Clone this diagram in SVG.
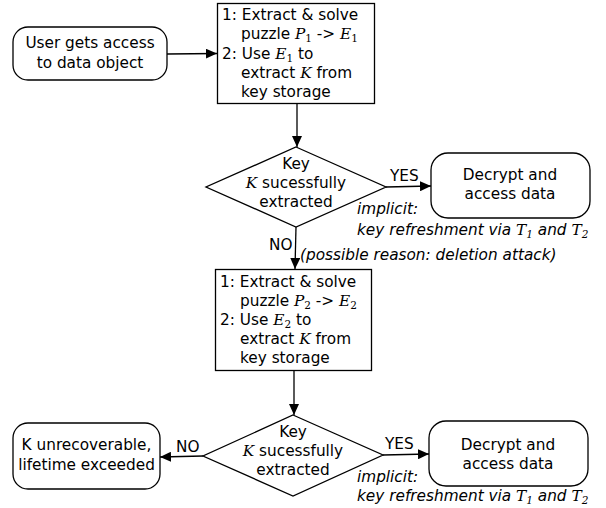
<svg xmlns="http://www.w3.org/2000/svg" width="606" height="508" viewBox="0 0 606 508">
<style>
.s{fill:#fff;stroke:#000;stroke-width:1.3}
.t{font-family:"DejaVu Sans",sans-serif;font-size:15.3px;fill:#000}
.i{font-style:italic}
.m{font-family:"DejaVu Serif",serif;font-style:italic}
.b{font-family:"DejaVu Serif",serif;font-size:10.5px}
.e{stroke:#000;stroke-width:1.3;fill:none}
</style>
<defs>
<marker id="ah" markerUnits="userSpaceOnUse" markerWidth="12" markerHeight="10" refX="11" refY="5" orient="auto">
<path d="M0,0 L11,5 L0,10 Z" fill="#000"/>
</marker>
</defs>
<rect width="606" height="508" fill="#fff"/>
<g id="connectors">
<line class="e" x1="167" y1="54" x2="217" y2="53.5" marker-end="url(#ah)"/>
<line class="e" x1="297" y1="104" x2="297" y2="147" marker-end="url(#ah)"/>
<line class="e" x1="386" y1="187" x2="431" y2="186" marker-end="url(#ah)"/>
<line class="e" x1="296" y1="227" x2="295" y2="269" marker-end="url(#ah)"/>
<line class="e" x1="294" y1="371" x2="294" y2="415" marker-end="url(#ah)"/>
<line class="e" x1="203" y1="456" x2="160" y2="457" marker-end="url(#ah)"/>
<line class="e" x1="383" y1="455" x2="429" y2="454" marker-end="url(#ah)"/>
<text class="t" x="390" y="181">YES</text>
<text class="t" x="269" y="250">NO</text>
<text class="t" x="176" y="452">NO</text>
<text class="t" x="385" y="449">YES</text>
<text class="t i" x="357" y="214">implicit:</text>
<text class="t i" x="357" y="235">key refreshment via <tspan class="m">T</tspan><tspan class="b i" dy="3">1</tspan><tspan dy="-3"> and </tspan><tspan class="m">T</tspan><tspan class="b i" dy="3">2</tspan></text>
<text class="t i" x="300" y="260">(possible reason: deletion attack)</text>
<text class="t i" x="357" y="482">implicit:</text>
<text class="t i" x="357" y="501">key refreshment via <tspan class="m">T</tspan><tspan class="b i" dy="3">1</tspan><tspan dy="-3"> and </tspan><tspan class="m">T</tspan><tspan class="b i" dy="3">2</tspan></text>
</g>
<g id="start">
<rect class="s" x="13" y="27" width="154" height="53" rx="15"/>
<text class="t" text-anchor="middle" x="90" y="48">User gets access</text>
<text class="t" text-anchor="middle" x="90" y="68">to data object</text>
</g>
<g id="step1">
<rect class="s" x="217.5" y="3.5" width="157" height="100"/>
<text class="t" x="222" y="20">1: Extract &amp; solve</text>
<text class="t" x="241" y="39">puzzle <tspan class="m">P</tspan><tspan class="b" dy="3">1</tspan><tspan dy="-3"> -&gt; </tspan><tspan class="m">E</tspan><tspan class="b" dy="3">1</tspan></text>
<text class="t" x="222" y="59">2: Use <tspan class="m">E</tspan><tspan class="b" dy="3">1</tspan><tspan dy="-3"> to</tspan></text>
<text class="t" x="241" y="78">extract <tspan class="m">K</tspan> from</text>
<text class="t" x="241" y="97">key storage</text>
</g>
<g id="check1">
<polygon class="s" points="296,147 386,187 296,227 206,187"/>
<text class="t" text-anchor="middle" x="296" y="169">Key</text>
<text class="t" text-anchor="middle" x="296" y="188"><tspan class="m">K</tspan> sucessfully</text>
<text class="t" text-anchor="middle" x="296" y="207">extracted</text>
</g>
<g id="decrypt1">
<rect class="s" x="431" y="153" width="159" height="65" rx="17"/>
<text class="t" text-anchor="middle" x="510" y="180">Decrypt and</text>
<text class="t" text-anchor="middle" x="510" y="199">access data</text>
</g>
<g id="step2">
<rect class="s" x="215.5" y="269.5" width="156" height="101"/>
<text class="t" x="220" y="287">1: Extract &amp; solve</text>
<text class="t" x="240" y="306">puzzle <tspan class="m">P</tspan><tspan class="b" dy="3">2</tspan><tspan dy="-3"> -&gt; </tspan><tspan class="m">E</tspan><tspan class="b" dy="3">2</tspan></text>
<text class="t" x="220" y="325">2: Use <tspan class="m">E</tspan><tspan class="b" dy="3">2</tspan><tspan dy="-3"> to</tspan></text>
<text class="t" x="240" y="344">extract <tspan class="m">K</tspan> from</text>
<text class="t" x="240" y="363">key storage</text>
</g>
<g id="check2">
<polygon class="s" points="293,415 383,455 293,496 203,456"/>
<text class="t" text-anchor="middle" x="293" y="437">Key</text>
<text class="t" text-anchor="middle" x="293" y="456"><tspan class="m">K</tspan> sucessfully</text>
<text class="t" text-anchor="middle" x="293" y="475">extracted</text>
</g>
<g id="fail">
<rect class="s" x="13" y="423" width="147" height="66" rx="15"/>
<text class="t" text-anchor="middle" x="86.5" y="450">K unrecoverable,</text>
<text class="t" text-anchor="middle" x="86.5" y="470">lifetime exceeded</text>
</g>
<g id="decrypt2">
<rect class="s" x="429" y="421" width="159" height="65" rx="17"/>
<text class="t" text-anchor="middle" x="508" y="450">Decrypt and</text>
<text class="t" text-anchor="middle" x="508" y="469">access data</text>
</g>
</svg>
